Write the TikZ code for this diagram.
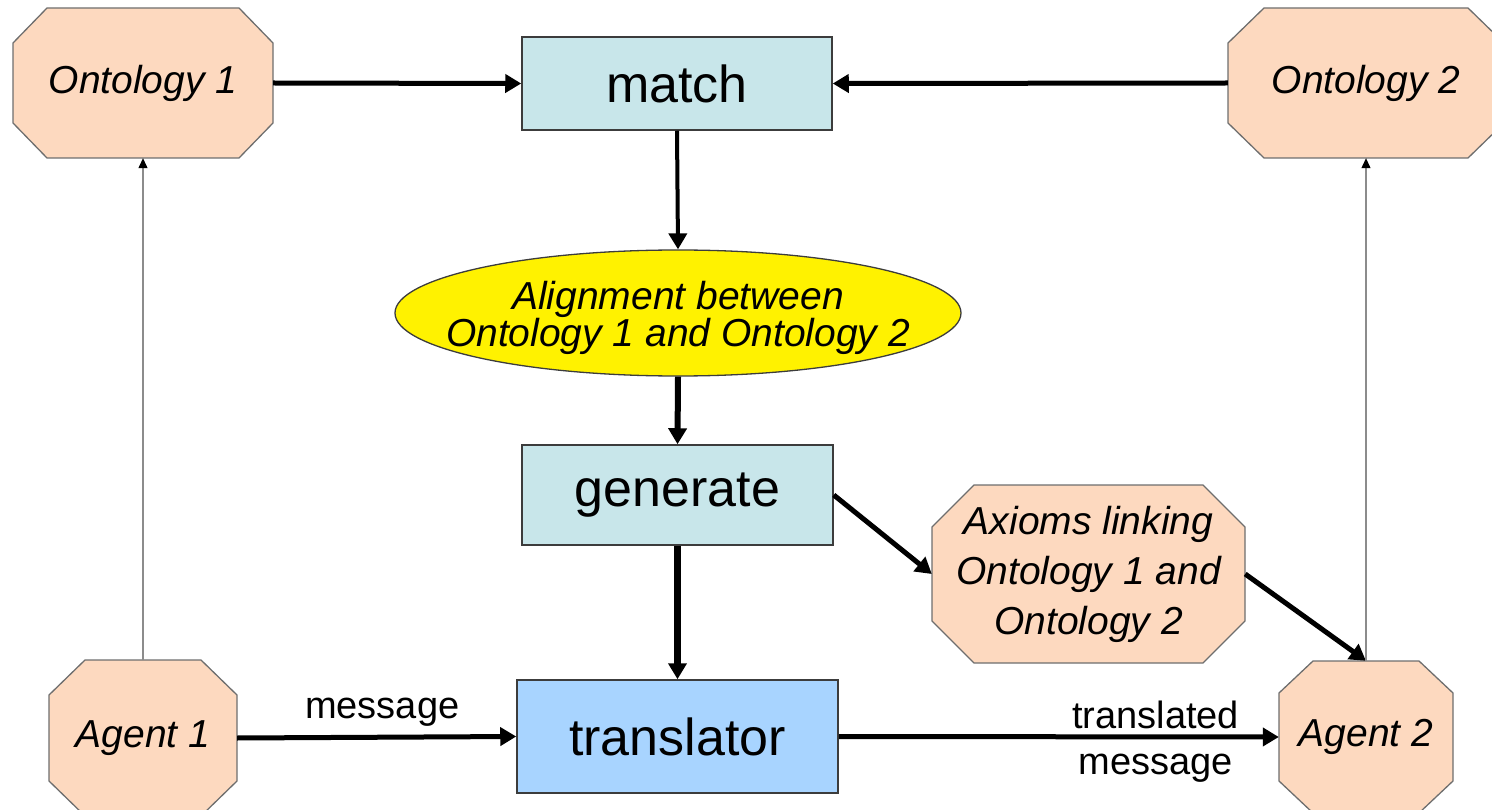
\documentclass[tikz,border=0pt]{standalone}
\usepackage{fontspec}
\setmainfont{Liberation Sans}
\usetikzlibrary{arrows.meta,shapes.geometric}
\definecolor{peach}{HTML}{FDD9BF}
\definecolor{boxcyan}{HTML}{C8E6EA}
\definecolor{tblue}{HTML}{A8D4FF}
\definecolor{octline}{HTML}{6E6E6E}
\definecolor{boxline}{HTML}{3C3C3C}
\definecolor{thinline}{HTML}{8C8C8C}
\newcommand\octnode[7]{% name, x, y, w, h, chamfer x, chamfer y
  \filldraw[octshape] ({#2-#4/2+#6},{#3-#5/2}) -- ({#2+#4/2-#6},{#3-#5/2}) -- ({#2+#4/2},{#3-#5/2+#7}) -- ({#2+#4/2},{#3+#5/2-#7}) -- ({#2+#4/2-#6},{#3+#5/2}) -- ({#2-#4/2+#6},{#3+#5/2}) -- ({#2-#4/2},{#3+#5/2-#7}) -- ({#2-#4/2},{#3-#5/2+#7}) -- cycle;
  \node[octtext, minimum width=#4pt, minimum height=#5pt] (#1) at (#2,#3)}
\tikzset{
  octshape/.style={fill=peach, draw=octline, line width=1.3pt},
  octtext/.style={shape=rectangle, inner sep=0pt, align=center, font=\fontsize{39}{50}\selectfont\itshape},
  procbox/.style={rectangle, draw=boxline, line width=1.5pt, inner sep=0pt, font=\fontsize{52}{60}\selectfont},
  thick arrow/.style={line width=#1, -{Triangle[length=16pt,width=18pt]}},
  thin arrow/.style={draw=thinline, line width=1.2pt, -{Triangle[length=10pt,width=9pt,color=black]}},
  lbl/.style={font=\fontsize{38}{46}\selectfont, align=center, inner sep=0pt}
}
\begin{document}
\begin{tikzpicture}[x=1pt,y=-1pt]
\useasboundingbox (0,0) rectangle (1492,810);
% octagon nodes
\octnode{o1}{143}{83}{260}{150}{34}{35} {Ontology 1};
\octnode{o2}{1366}{83}{276}{150}{36}{35} {Ontology 2};
\octnode{ax}{1088.5}{574}{313}{178}{42}{42} {Axioms linking\\Ontology 1 and\\Ontology 2};
\octnode{a1}{143}{738}{188}{156}{36}{35} {Agent 1};
\octnode{a2}{1366}{737}{174}{152}{34}{32} {Agent 2};
% process boxes
\node[procbox, fill=boxcyan, minimum width=310pt, minimum height=93pt] (match) at (677,83.5) {match};
\node[procbox, fill=boxcyan, minimum width=311pt, minimum height=100pt] (gen) at (677.5,495) {generate};
\node[procbox, fill=tblue, minimum width=321pt, minimum height=113pt] (trans) at (677.5,736.5) {translator};
% alignment ellipse
\node[ellipse, fill=yellow, draw=boxline, line width=1.3pt, minimum width=566pt, minimum height=126pt, inner sep=0pt] (al) at (678,313) {};
\node[inner sep=0pt, align=center, font=\fontsize{39}{36}\selectfont\itshape] (altext) at (678,318) {Alignment between\\Ontology 1 and Ontology 2};
% connectors
\draw[thick arrow=5pt] (o1.east) -- (match.west);
\draw[thick arrow=5pt] (o2.west) -- (match.east);
\draw[thick arrow=4pt] (match.south) -- (al.north);
\draw[thick arrow=6pt] (al.south) -- (gen.north);
\draw[thick arrow=7pt] (gen.south) -- (trans.north);
\draw[thick arrow=5pt] (gen.east) -- (ax.west);
\draw[thick arrow=5pt] (ax.east) -- (a2.north);
\draw[thin arrow] (a1.north) -- (o1.south);
\draw[thin arrow] (a2.north) -- (o2.south);
\draw[thick arrow=5pt] (a1.east) -- node[lbl, above=8pt, pos=0.52] (msg) {message} (trans.west);
\draw[thick arrow=5pt] (trans.east) -- node[lbl, pos=0.72, yshift=-5pt] (tmsg) {translated\\message} (a2.west);
\end{tikzpicture}
\end{document}
